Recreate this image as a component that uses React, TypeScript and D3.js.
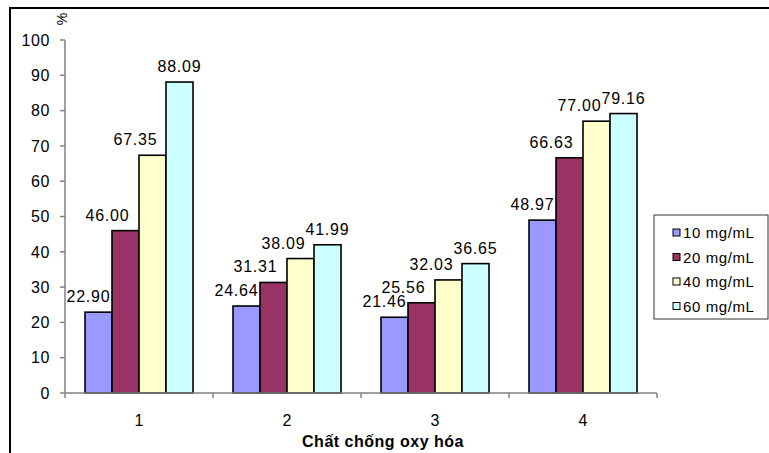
import React from "react";
import * as d3 from "d3";

// Antioxidant categories on the x axis
const categories = ["1", "2", "3", "4"];
// Concentration series
const seriesNames = ["10 mg/mL", "20 mg/mL", "40 mg/mL", "60 mg/mL"];
// Values (%) per series, one entry per category
const s10 = [22.9, 24.64, 21.46, 48.97];
const s20 = [46.0, 31.31, 25.56, 66.63];
const s40 = [67.35, 38.09, 32.03, 77.0];
const s60 = [88.09, 41.99, 36.65, 79.16];
const seriesValues = [s10, s20, s40, s60];
const yTicks = [0, 10, 20, 30, 40, 50, 60, 70, 80, 90, 100];

const colors = ["#9999FF", "#993366", "#FFFFCC", "#CCFFFF"];
// horizontal nudge of value labels, per series
const labelDx = [-10, -18, -17, 0];

const W = 769;
const H = 453;
const FONT = "Arial, 'Liberation Sans', sans-serif";

export default function App() {
  const x0 = d3.scaleBand<string>().domain(categories).range([65, 657]).padding(0);
  const x1 = d3.scaleBand<string>().domain(seriesNames).range([20, 128]).padding(0);
  const y = d3.scaleLinear().domain([0, 100]).range([393, 40]);

  const axisColor = "#808080";

  return (
    <svg
      width={W}
      height={H}
      style={{ position: "absolute", left: 0, top: 0, background: "#fff" }}
      fontFamily={FONT}
    >
      <rect x={0} y={0} width={W} height={H} fill="#fff" />
      {/* outer chart frame */}
      <rect x={10} y={8} width={W + 20} height={H + 20} fill="none" stroke="#000" strokeWidth={2} />

      {/* y axis */}
      <line x1={65} x2={65} y1={y(100)} y2={y(0)} stroke={axisColor} strokeWidth={1.5} />
      {yTicks.map((t) => (
        <g key={t}>
          <line x1={60} x2={65} y1={y(t)} y2={y(t)} stroke={axisColor} strokeWidth={1.5} />
          <text
            x={50}
            y={y(t)}
            dy="0.36em"
            textAnchor="end"
            fontSize={16}
            letterSpacing={0.6}
            fill="#000"
          >
            {t}
          </text>
        </g>
      ))}
      <text
        transform={`translate(67,19) rotate(-90)`}
        textAnchor="middle"
        fontSize={14}
        fill="#000"
      >
        %
      </text>

      {/* bars */}
      {seriesValues.map((vals, si) =>
        vals.map((v, ci) => {
          const bx = (x0(categories[ci]) as number) + (x1(seriesNames[si]) as number);
          const bw = x1.bandwidth();
          return (
            <g key={`${si}-${ci}`}>
              <rect
                x={bx}
                y={y(v)}
                width={bw}
                height={y(0) - y(v)}
                fill={colors[si]}
                stroke="#000"
                strokeWidth={1.6}
              />
              <text
                x={bx + bw / 2 + labelDx[si]}
                y={y(v) - 10}
                textAnchor="middle"
                fontSize={16}
                letterSpacing={0.8}
                fill="#000"
              >
                {v.toFixed(2)}
              </text>
            </g>
          );
        })
      )}

      {/* x axis */}
      <line x1={65} x2={657} y1={y(0)} y2={y(0)} stroke={axisColor} strokeWidth={1.5} />
      {[...categories.map((c) => x0(c) as number), 657].map((tx, i) => (
        <line key={i} x1={tx} x2={tx} y1={y(0)} y2={y(0) + 5} stroke={axisColor} strokeWidth={1.5} />
      ))}
      {categories.map((c) => (
        <text
          key={c}
          x={(x0(c) as number) + x0.bandwidth() / 2}
          y={426}
          textAnchor="middle"
          fontSize={16}
          fill="#000"
        >
          {c}
        </text>
      ))}
      <text x={383} y={447} textAnchor="middle" fontSize={16} fontWeight="bold" letterSpacing={0.5} fill="#000">
        Chất chống oxy hóa
      </text>

      {/* legend */}
      <rect x={654} y={215} width={114} height={104} fill="#fff" stroke="#333" strokeWidth={1} />
      {seriesNames.map((name, i) => {
        const ly = 233 + i * 24.5;
        return (
          <g key={name}>
            <rect x={673} y={ly - 4} width={7} height={7} fill={colors[i]} stroke="#000" strokeWidth={1} />
            <text x={683} y={ly} dy="0.36em" fontSize={15} letterSpacing={0.6} fill="#000">
              {name}
            </text>
          </g>
        );
      })}
    </svg>
  );
}
